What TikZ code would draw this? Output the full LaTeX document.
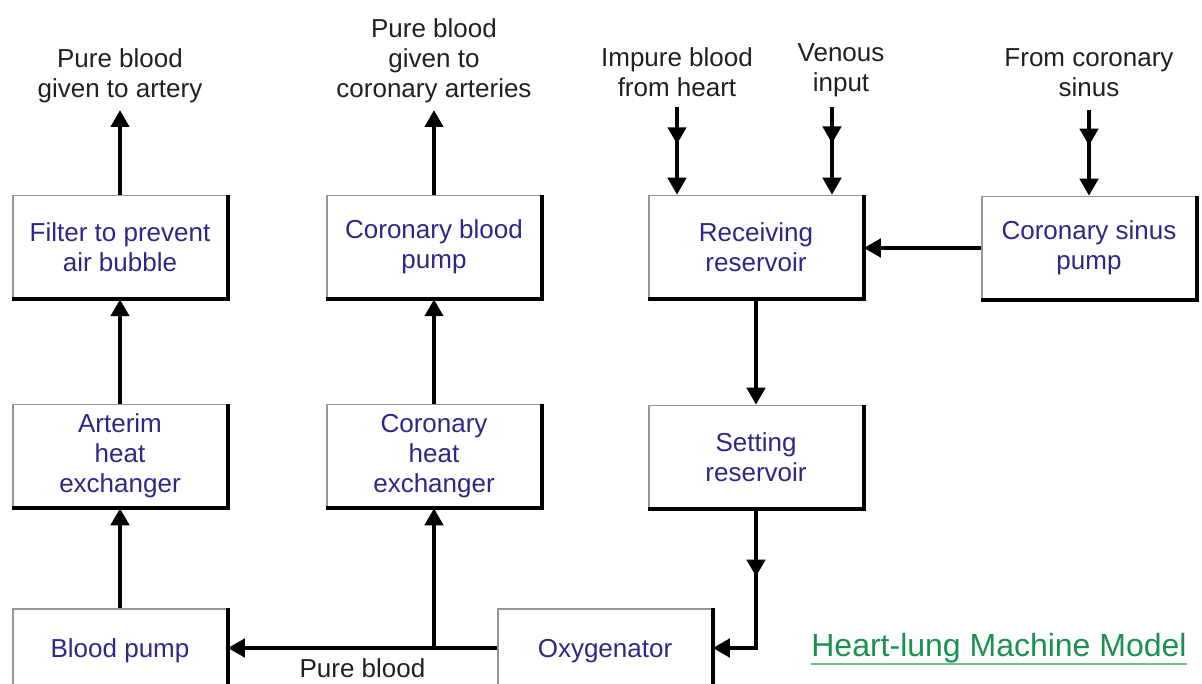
\documentclass[tikz,border=0pt]{standalone}
\usepackage{fontspec}
\setmainfont{Liberation Sans}
\usetikzlibrary{positioning, arrows.meta, decorations.markings}

\definecolor{boxtext}{RGB}{45,40,135}
\definecolor{lbltext}{RGB}{35,31,32}
\definecolor{boxedge}{RGB}{150,150,150}
\definecolor{titlegreen}{RGB}{25,145,80}
\definecolor{titleline}{RGB}{110,190,140}

\tikzset{
	unit/.style={draw=boxedge, line width=1.5pt, fill=white, text=boxtext, align=center, minimum width=214pt, minimum height=103pt, font=\fontsize{26}{30}\selectfont, execute at begin node={\rule{0pt}{24pt}}, append after command={(\tikzlastnode.south west) edge[unitshade] (\tikzlastnode.north east)}},
	unitshade/.style={draw=black, line width=4pt, to path={-| (\tikztotarget)}},
	lbl/.style={text=lbltext, align=center, inner sep=0pt, text depth=6pt, font=\fontsize{26}{30}\selectfont},
	flow/.style={draw=black, line width=4.5pt, -{Triangle[width=18pt,length=17pt]}},
	midtip/.style={postaction={decorate, decoration={markings, mark=at position #1 with {\arrow{Triangle[width=18pt,length=17pt]}}}}}
}

\begin{document}
\begin{tikzpicture}[x=1pt, y=-1pt]
					\useasboundingbox (0, 0) rectangle (1202, 684);
					\node (filter) at (120, 247) [unit] {Filter to prevent\\air bubble};
					\node (cbpump) at (434, 247) [unit] {Coronary blood\\pump};
					\node (recv) at (756, 247) [unit] {Receiving\\reservoir};
					\node (cspump) at (1089, 248) [unit] {Coronary sinus\\pump};
					\node (arterim) at (120, 456) [unit] {Arterim\\heat\\exchanger};
					\node (cheat) at (434, 456) [unit] {Coronary\\heat\\exchanger};
					\node (setting) at (756, 457) [unit] {Setting\\reservoir};
					\node (bpump) at (120, 648) [unit, minimum height=78pt] {Blood pump};
					\node (oxy) at (605, 648) [unit, minimum height=78pt] {Oxygenator};
					
					\node (artlbl) at (120, 104) [lbl, anchor=south] {Pure blood\\given to artery};
					\node (corlbl) at (434, 104) [lbl, anchor=south] {Pure blood\\given to\\coronary arteries};
					\node (implbl) at (677, 103) [lbl, anchor=south] {Impure blood\\from heart};
					\node (venlbl) at (841, 98) [lbl, anchor=south] {Venous\\input};
					\node (sinlbl) at (1089, 103) [lbl, anchor=south] {From coronary\\sinus};
					
					\node (title) at (999, 656) [font=\fontsize{32}{36}\selectfont, text=titlegreen, inner sep=0pt, text depth=0pt, anchor=base] {Heart-lung Machine Model};
					\draw[titleline, line width=2pt] ([yshift=-8pt]title.south west) -- ([yshift=-8pt]title.south east);
					
					\draw[flow, shorten >=6pt] (filter.north) -- (artlbl.south);
					\draw[flow, shorten >=6pt] (cbpump.north) -- (corlbl.south);
					\draw[flow] (arterim.north) -- (filter.south);
					\draw[flow] (cheat.north) -- (cbpump.south);
					\draw[flow] (bpump.north) -- (arterim.south);
					\draw[flow] (oxy.west) -- node[lbl, below=8pt] (pblbl) {Pure blood} (bpump.east);
					\draw[flow] (cheat.south |- oxy.west) -- (cheat.south);
					\draw[flow] (cspump.west -| cspump.west) -- (cspump.west -| recv.east);
					\draw[flow] (recv.south) -- (setting.north);
					\draw[flow, midtip=0.37] (setting.south) |- (oxy.east);
					\draw[flow, midtip=0.45, shorten <=4pt] (implbl.south) -- (implbl.south |- recv.north);
					\draw[flow, midtip=0.47, shorten <=9pt] ([xshift=-9pt]venlbl.south) -- ([xshift=-9pt]venlbl.south |- recv.north);
					\draw[flow, midtip=0.46, shorten <=7pt] (sinlbl.south) -- (sinlbl.south |- cspump.north);
				\end{tikzpicture}
\end{document}
